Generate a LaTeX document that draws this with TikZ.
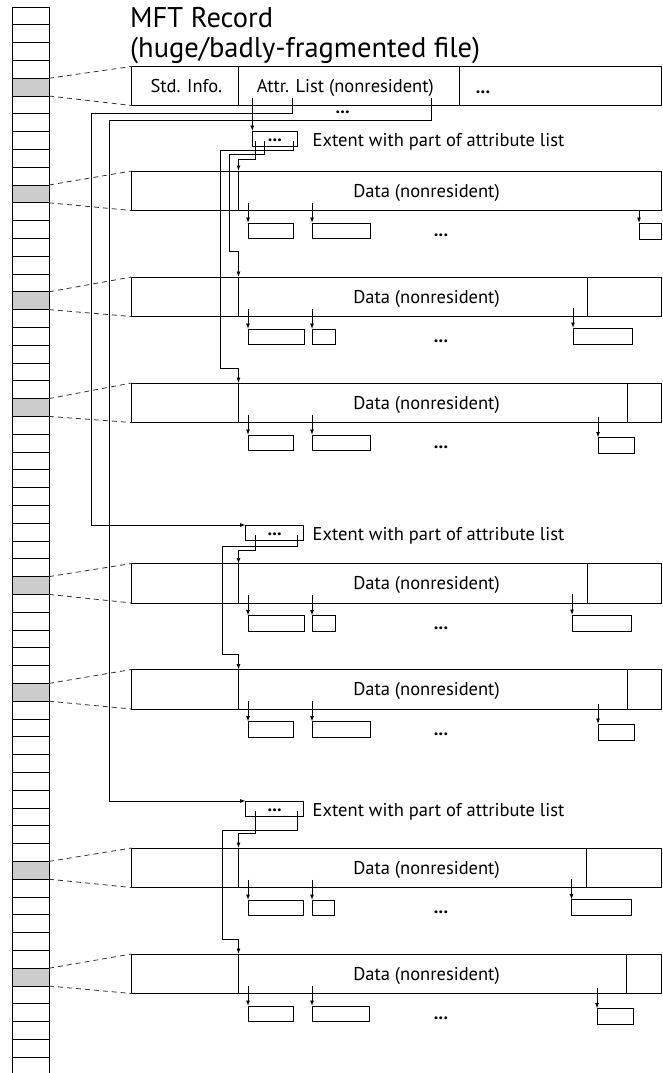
\documentclass[tikz,border=0pt]{standalone}
\usepackage{fontspec}
\setmainfont{PT Sans}
\usetikzlibrary{arrows.meta}
\tikzset{
  ln/.style={draw=black, line width=0.95pt},
  box/.style={ln, rectangle, inner sep=0pt, outer sep=0pt, anchor=north west},
  cell/.style={box, minimum width=37pt, minimum height=17.8pt, fill=white},
  shadedcell/.style={cell, fill=black!20},
  lbl/.style={font=\fontsize{18.5pt}{20pt}\selectfont, inner sep=0pt, anchor=base},
  dotlbl/.style={lbl, font=\fontsize{18.5pt}{20pt}\selectfont\bfseries},
  titletext/.style={font=\fontsize{28.5pt}{30pt}\selectfont, inner sep=0pt, anchor=base west},
  arr/.style={ln, -{Latex[length=5.5pt,width=4pt]}},
  dashln/.style={draw=black!80, line width=0.8pt, dash pattern=on 5pt off 4pt},
}
\def\rstart{34}\def\rtop{54.5}
% #1 name, #2 top, #3 cell, #4 divider x (0 = none), #5 A right, #6 B right, #7 R left, #8 R right
\newcommand\mkdata[8]{%
  \node[box, minimum width=530pt, minimum height=39.5pt] (#1) at (131.5,#2) {};
  \node[lbl] (#1t) at (426.5,#2+26.3) {Data (nonresident)};
  \draw[dashln] (c#3.north east) -- (#1.north west);
  \draw[dashln] (c#3.south east) -- (#1.south west);
  \coordinate (#1in) at (238.5,#2);
  \draw[ln] (#1in) -- (238.5,#2+39.5);
  \ifdim#4pt>0pt \draw[ln] (#4,#2) -- (#4,#2+39.5);\fi
  \node[box, minimum width={#5pt-248pt}, minimum height=15.5pt] (#1a) at (248,#2+52) {};
  \coordinate (#1as) at (248,#2+31.5);
  \draw[arr] (#1as) -- (#1a.north west);
  \node[box, minimum width={#6pt-312pt}, minimum height=15.5pt] (#1b) at (312,#2+52) {};
  \coordinate (#1bs) at (312,#2+31.5);
  \draw[arr] (#1bs) -- (#1b.north west);
  \node[box, minimum width={#8pt-#7pt}, minimum height=16pt] (#1r) at (#7,#2+\rtop) {};
  \coordinate (#1rs) at (#7,#2+\rstart);
  \draw[arr] (#1rs) -- (#1r.north west);
  \node[dotlbl] (#1d) at (441,#2+65.5) {...};
}
\newcommand\mkextent[4]{% #1 name, #2 top, #3 left, #4 right
  \node[box, minimum width={#4pt-#3pt}, minimum height=15pt] (#1) at (#3,#2) {};
  \node[dotlbl] (#1d) at ({(#3+#4)/2},#2+10.5) {...};
  \node[lbl, anchor=base west] (#1t) at (312.5,#2+15) {Extent with part of attribute list};
}
\begin{document}
\begin{tikzpicture}[x=1pt,y=-1pt]
\fill[white] (0,0) rectangle (663,1073);
\useasboundingbox (0,0) rectangle (663,1073);

% MFT column
\foreach \i in {0,...,59} {
  \node[cell] (c\i) at (12,{7+\i*17.8}) {};
}
\foreach \i in {4,10,16,22,32,38,48,54} {
  \node[shadedcell] (s\i) at (12,{7+\i*17.8}) {};
}

% Title
\node[titletext] (title1) at (130,28) {MFT Record};
\node[titletext] (title2) at (130,57) {(huge/badly-fragmented file)};

% MFT record
\node[box, minimum width=530pt, minimum height=39pt] (mft) at (131.5,66.5) {};
\draw[ln] (238,66.5) -- (238,105.5);
\draw[ln] (459,66.5) -- (459,105.5);
\node[lbl] (std) at (186.3,92.5) {Std. Info.};
\node[lbl] (attr) at (345.3,92.5) {Attr. List (nonresident)};
\node[dotlbl] (mftd) at (483,93) {...};
\node[dotlbl] (mftd2) at (342.7,113) {...};
\draw[dashln] (c4.north east) -- (mft.north west);
\draw[dashln] (c4.south east) -- (mft.south west);

% Extents
\mkextent{e1}{131}{252.3}{297.5}
\mkextent{e2}{525}{245.6}{303.8}
\mkextent{e3}{801}{245.6}{303.8}

% Data boxes
\def\rstart{39.5}\def\rtop{52}
\mkdata{d1}{171}{10}{0}{293}{370}{639}{661.5}
\def\rstart{30.5}\def\rtop{51}
\mkdata{d2}{277}{16}{587}{304}{335}{573}{632}
\def\rstart{34}\def\rtop{54.5}
\mkdata{d3}{383}{22}{627}{293}{370}{598}{634}
\def\rstart{30.5}\def\rtop{51.5}
\mkdata{d4}{563.5}{32}{587}{304}{335}{572}{631.5}
\def\rstart{34}\def\rtop{54.5}
\mkdata{d5}{669.5}{38}{627}{293}{370}{598}{634}
\def\rstart{30.5}\def\rtop{51.5}
\mkdata{d6}{848}{48}{586.5}{303}{334}{571.5}{631}
\def\rstart{34}\def\rtop{54.5}
\mkdata{d7}{954}{54}{626.5}{293}{369.5}{597}{633.5}

% Connectors from MFT record
\coordinate (m1) at (252.3,98);
\coordinate (m2) at (292.7,98);
\coordinate (m3) at (431,98);
\draw[arr] (m1) -- (m1 |- e1.north);
\draw[arr] (m2) -- (292.7,113.3) -- (91,113.3) -- (91,525) -- (e2.north west);
\draw[arr] (m3) -- (431,120.7) -- (109.3,120.7) -- (109.3,801) -- (e3.north west);

% Extent 1
\draw[arr] (255.7,141) -- (255.7,159) -- (238.5,159) -- (d1in);
\draw[arr] (264.3,141) -- (264.3,154.3) -- (229.3,154.3) -- (229.3,251.7) -- (238.5,251.7) -- (d2in);
\draw[arr] (293.3,141) -- (293.3,150) -- (220.7,150) -- (220.7,368.3) -- (238.5,368.3) -- (d3in);
% Extent 2
\draw[arr] (255.2,535) -- (255.2,550.7) -- (238.5,550.7) -- (d4in);
\draw[arr] (297.3,535) -- (297.3,546.7) -- (222.6,546.7) -- (222.6,654.7) -- (238.5,654.7) -- (d5in);
% Extent 3
\draw[arr] (255.2,811) -- (255.2,833.7) -- (238.5,833.7) -- (d6in);
\draw[arr] (297.3,811) -- (297.3,830) -- (222.6,830) -- (222.6,939.3) -- (238.5,939.3) -- (d7in);
\end{tikzpicture}
\end{document}
